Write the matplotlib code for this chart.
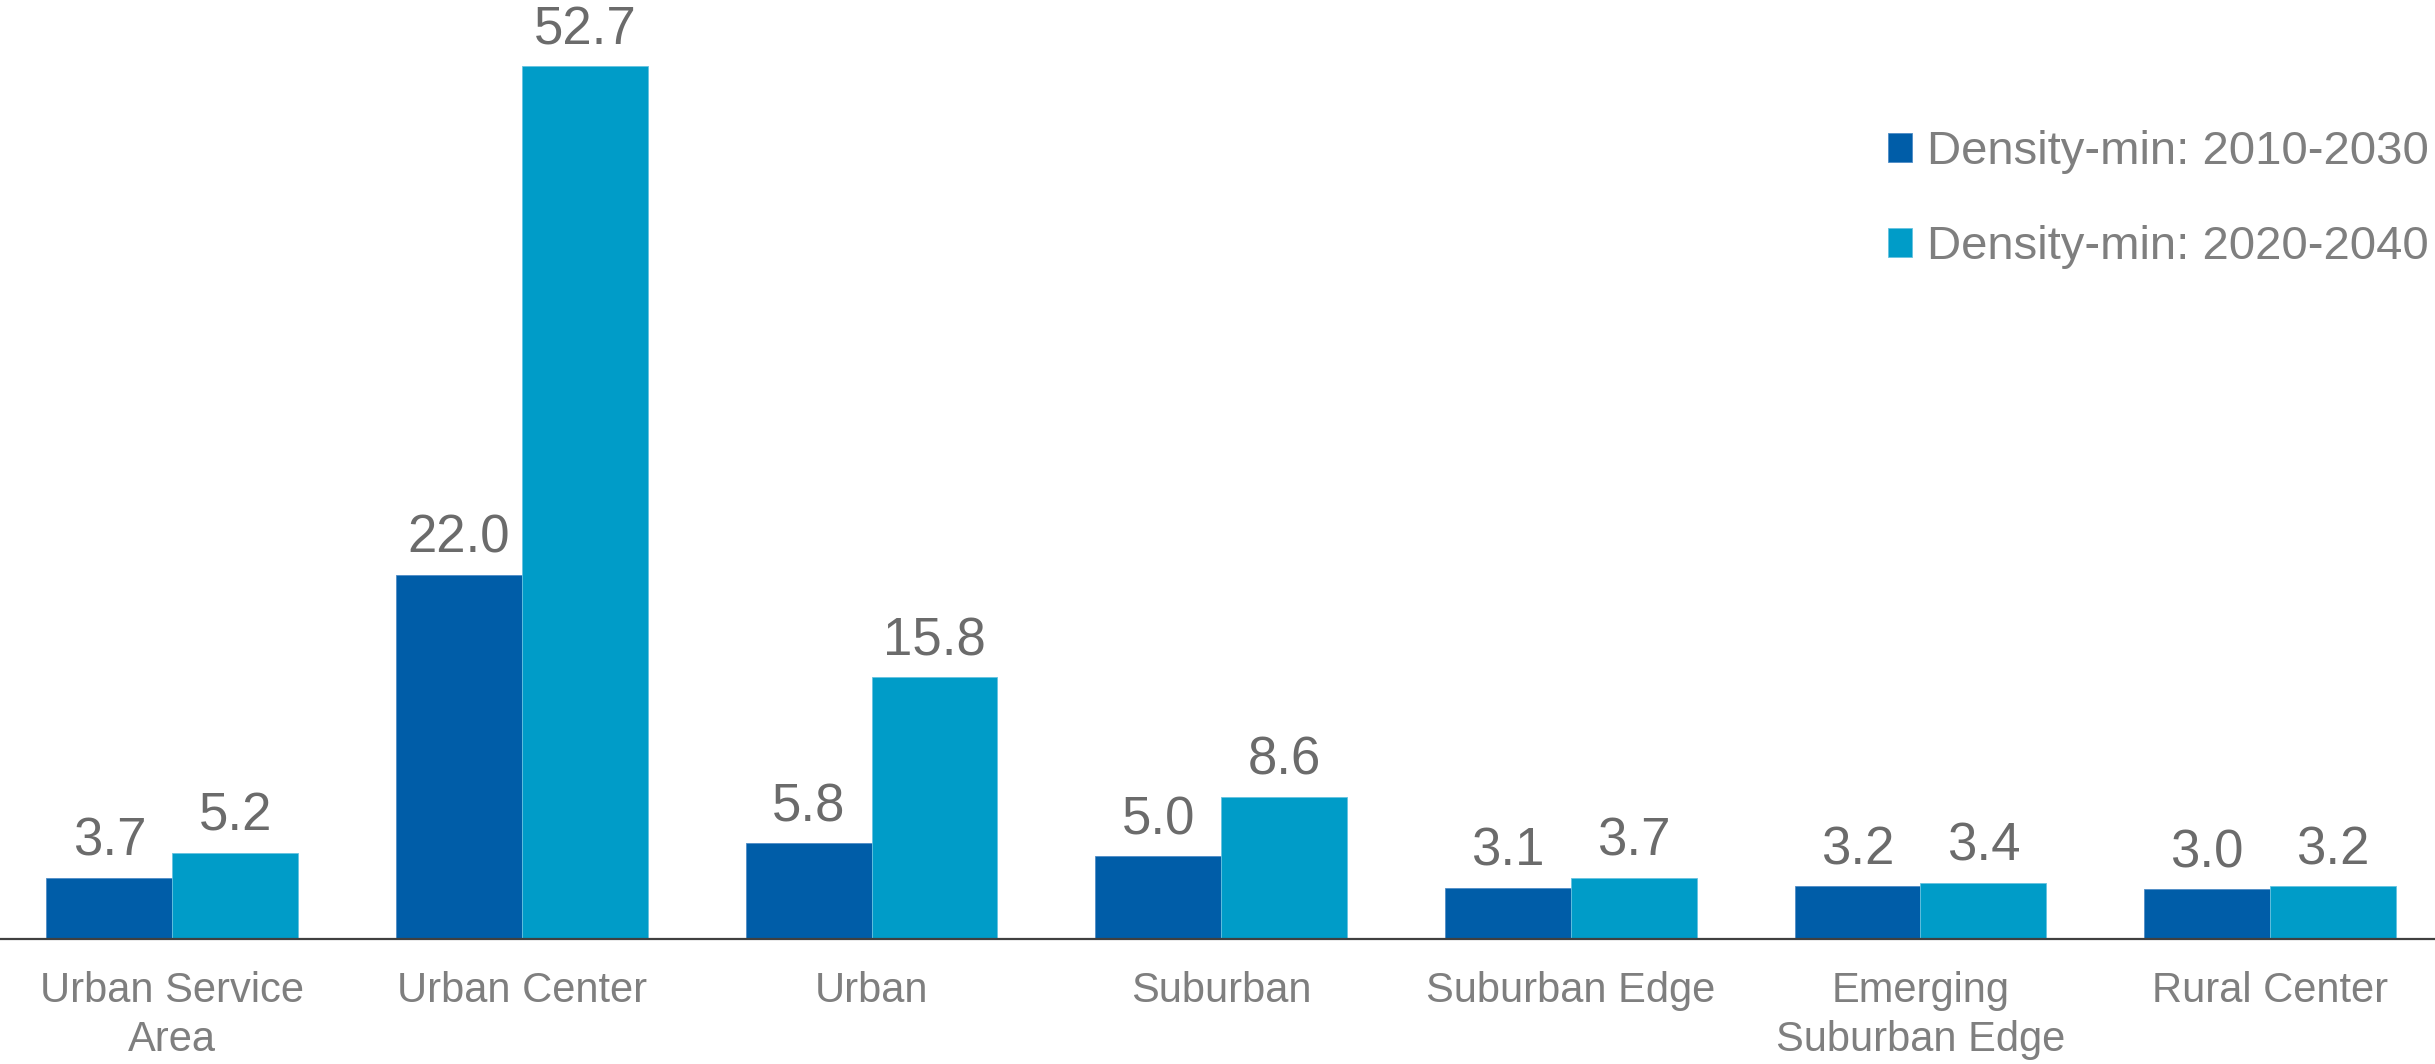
import numpy as np
import matplotlib
matplotlib.use("Agg")
import matplotlib.pyplot as plt

# data
categories = [
    "Urban Service\nArea",
    "Urban Center",
    "Urban",
    "Suburban",
    "Suburban Edge",
    "Emerging\nSuburban Edge",
    "Rural Center",
]
density_2010_2030 = [3.7, 22.0, 5.8, 5.0, 3.1, 3.2, 3.0]
density_2020_2040 = [5.2, 52.7, 15.8, 8.6, 3.7, 3.4, 3.2]
series_labels = ["Density-min: 2010-2030", "Density-min: 2020-2040"]

BLUE = "#005DA8"
CYAN = "#009CC8"
VALUE_GREY = "#6B6B6B"
LABEL_GREY = "#7F7F7F"

plt.rcParams["font.family"] = ["Liberation Sans", "DejaVu Sans"]

W, H, DPI = 2435, 1064, 100
fig = plt.figure(figsize=(W / DPI, H / DPI), dpi=DPI)
ax = fig.add_axes([0.0, (H - 939) / H, 1.0, 939 / H])

x = np.arange(len(categories))
bw = 0.36
b1 = ax.bar(x - bw / 2, density_2010_2030, bw, color=BLUE,
            edgecolor="#4F8CC6", linewidth=0.6, label=series_labels[0])
b2 = ax.bar(x + bw / 2, density_2020_2040, bw, color=CYAN,
            edgecolor="#66C3E0", linewidth=0.6, label=series_labels[1])

for bars in (b1, b2):
    for r in bars:
        v = r.get_height()
        ax.annotate(f"{v:.1f}", (r.get_x() + r.get_width() / 2, v),
                    xytext=(0, 15.8), textcoords="offset points",
                    ha="center", va="baseline", fontsize=38, color=VALUE_GREY)

ax.set_xlim(-0.493, 6.472)
ax.set_ylim(0, 56.7)

for s in ("top", "right", "left"):
    ax.spines[s].set_visible(False)
ax.spines["bottom"].set_color("#404040")
ax.spines["bottom"].set_linewidth(1.6)
ax.spines["bottom"].set_zorder(3)
ax.set_yticks([])
ax.set_xticks(x)
ax.set_xticklabels(categories, fontsize=30, color=LABEL_GREY, linespacing=1.28)
ax.tick_params(axis="x", length=0, pad=23)

leg = ax.legend(loc="upper left", bbox_to_anchor=(1888 / W, 1 - 130 / H),
                bbox_transform=fig.transFigure, frameon=False, fontsize=34,
                handlelength=0.51, handleheight=0.55, handletextpad=0.32,
                labelspacing=1.08, borderpad=0, borderaxespad=0)
for t in leg.get_texts():
    t.set_color(LABEL_GREY)

fig.savefig("out.png", dpi=DPI)
